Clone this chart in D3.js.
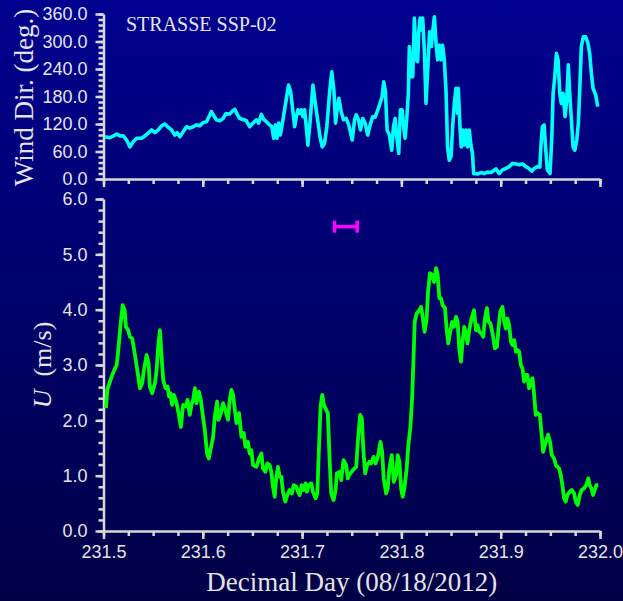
<!DOCTYPE html>
<html>
<head>
<meta charset="utf-8">
<script src="https://cdn.jsdelivr.net/npm/d3@7"></script>
<style>
  html, body { margin: 0; padding: 0; background: #00006a; }
  svg { display: block; }
</style>
</head>
<body>
<svg id="chart" width="623" height="601"></svg>
<script>
// Wind direction (deg) vs decimal day
const dirTime = [231.5015,231.5065,231.5133,231.5166,231.5199,231.5233,231.5266,231.5299,231.5334,231.5384,
  231.5417,231.5450,231.5484,231.5518,231.5551,231.5585,231.5618,231.5651,231.5685,231.5719,
  231.5742,231.5769,231.5802,231.5836,231.5869,231.5903,231.5937,231.5970,231.6003,231.6037,
  231.6063,231.6087,231.6114,231.6138,231.6171,231.6204,231.6231,231.6271,231.6298,231.6322,
  231.6349,231.6372,231.6405,231.6439,231.6472,231.6506,231.6540,231.6563,231.6590,231.6613,
  231.6640,231.6673,231.6696,231.6714,231.6731,231.6747,231.6764,231.6781,231.6807,231.6834,
  231.6864,231.6884,231.6902,231.6925,231.6942,231.6958,231.6975,231.6992,231.7008,231.7025,
  231.7042,231.7058,231.7082,231.7109,231.7133,231.7159,231.7183,231.7203,231.7226,231.7249,
  231.7276,231.7299,231.7320,231.7337,231.7354,231.7370,231.7394,231.7417,231.7444,231.7470,
  231.7505,231.7528,231.7545,231.7568,231.7588,231.7611,231.7635,231.7661,231.7685,231.7712,
  231.7736,231.7756,231.7779,231.7806,231.7822,231.7839,231.7856,231.7879,231.7903,231.7920,
  231.7937,231.7953,231.7973,231.7990,231.8007,231.8023,231.8037,231.8053,231.8070,231.8080,
  231.8097,231.8114,231.8131,231.8148,231.8164,231.8174,231.8188,231.8198,231.8214,231.8231,
  231.8248,231.8268,231.8284,231.8302,231.8315,231.8332,231.8349,231.8365,231.8382,231.8399,
  231.8415,231.8432,231.8449,231.8465,231.8482,231.8500,231.8516,231.8533,231.8550,231.8566,
  231.8573,231.8590,231.8603,231.8616,231.8633,231.8650,231.8666,231.8683,231.8700,231.8716,
  231.8727,231.8767,231.8801,231.8834,231.8867,231.8902,231.8928,231.8952,231.8985,231.9018,
  231.9052,231.9085,231.9119,231.9153,231.9186,231.9219,231.9253,231.9286,231.9314,231.9337,
  231.9370,231.9394,231.9407,231.9420,231.9437,231.9454,231.9470,231.9497,231.9515,231.9528,
  231.9545,231.9561,231.9578,231.9595,231.9611,231.9628,231.9648,231.9665,231.9681,231.9695,
  231.9712,231.9729,231.9746,231.9766,231.9782,231.9796,231.9812,231.9832,231.9856,231.9879,
  231.9896,231.9913,231.9930,231.9957,231.9977];
const dirVal = [92,90,98,94,94,85,70,81,89,89,
  94,100,107,101,107,116,120,113,107,96,
  101,92,103,114,111,114,118,116,123,125,
  136,147,137,129,127,132,142,142,148,152,
  140,132,130,127,114,122,129,122,141,130,
  125,118,114,89,118,89,122,96,129,165,
  205,191,158,114,136,151,143,151,136,151,
  114,74,129,205,165,125,89,70,78,114,
  187,234,194,122,154,176,147,129,132,118,
  85,129,140,129,107,132,122,96,118,136,
  135,147,161,180,212,191,107,96,63,114,
  132,92,56,151,151,114,89,129,187,289,
  223,223,351,260,256,318,351,325,351,281,
  165,252,321,289,321,354,296,260,292,260,
  292,260,194,70,41,49,114,165,198,143,
  198,114,70,107,74,107,70,107,74,56,
  12,11,14,12,15,14,18,22,12,20,
  23,27,34,33,31,33,27,23,17,23,
  27,26,78,114,118,63,20,12,92,187,
  223,274,260,187,165,187,136,172,249,187,
  129,70,63,85,122,194,289,310,310,296,
  274,231,198,183,158];

// Wind speed U (m/s) vs decimal day
const uTime = [231.5025,231.5038,231.5082,231.5116,231.5133,231.5149,231.5173,231.5193,231.5213,231.5226,
  231.5249,231.5266,231.5289,231.5317,231.5340,231.5367,231.5390,231.5407,231.5434,231.5454,
  231.5467,231.5490,231.5518,231.5535,231.5551,231.5568,231.5585,231.5601,231.5625,231.5645,
  231.5661,231.5675,231.5691,231.5709,231.5736,231.5759,231.5779,231.5802,231.5829,231.5846,
  231.5869,231.5886,231.5903,231.5920,231.5937,231.5960,231.5980,231.5997,231.6020,231.6043,
  231.6060,231.6080,231.6104,231.6121,231.6144,231.6158,231.6178,231.6204,231.6231,231.6254,
  231.6271,231.6288,231.6305,231.6322,231.6339,231.6365,231.6389,231.6412,231.6429,231.6455,
  231.6472,231.6489,231.6506,231.6540,231.6566,231.6590,231.6606,231.6630,231.6650,231.6673,
  231.6690,231.6707,231.6724,231.6741,231.6757,231.6774,231.6791,231.6807,231.6831,231.6851,
  231.6874,231.6897,231.6915,231.6942,231.6958,231.6975,231.6995,231.7015,231.7035,231.7048,
  231.7068,231.7092,231.7109,231.7136,231.7153,231.7169,231.7186,231.7203,231.7219,231.7243,
  231.7259,231.7276,231.7293,231.7317,231.7337,231.7350,231.7377,231.7394,231.7417,231.7444,
  231.7460,231.7477,231.7511,231.7545,231.7561,231.7585,231.7601,231.7618,231.7635,231.7655,
  231.7678,231.7695,231.7719,231.7739,231.7759,231.7772,231.7789,231.7806,231.7822,231.7846,
  231.7862,231.7879,231.7903,231.7923,231.7947,231.7963,231.7980,231.7997,231.8013,231.8030,
  231.8053,231.8070,231.8090,231.8108,231.8121,231.8134,231.8154,231.8181,231.8198,231.8214,
  231.8234,231.8254,231.8268,231.8288,231.8308,231.8329,231.8349,231.8365,231.8382,231.8399,
  231.8415,231.8439,231.8455,231.8472,231.8492,231.8510,231.8530,231.8550,231.8566,231.8583,
  231.8600,231.8616,231.8633,231.8650,231.8666,231.8683,231.8706,231.8731,231.8751,231.8767,
  231.8784,231.8807,231.8824,231.8841,231.8861,231.8877,231.8897,231.8918,231.8942,231.8962,
  231.8978,231.8995,231.9018,231.9035,231.9052,231.9068,231.9085,231.9103,231.9119,231.9136,
  231.9153,231.9169,231.9186,231.9203,231.9219,231.9236,231.9253,231.9269,231.9286,231.9303,
  231.9320,231.9337,231.9353,231.9370,231.9394,231.9410,231.9427,231.9454,231.9477,231.9497,
  231.9515,231.9538,231.9555,231.9571,231.9588,231.9605,231.9621,231.9638,231.9655,231.9671,
  231.9695,231.9716,231.9739,231.9756,231.9776,231.9796,231.9816,231.9839,231.9862,231.9882,
  231.9896,231.9913,231.9930,231.9947,231.9963,231.9983];
const uVal = [2.22,2.55,2.79,2.94,3.00,3.27,3.75,4.08,3.99,3.69,
  3.63,3.51,3.48,3.18,2.91,2.58,2.67,2.91,3.18,3.03,
  2.61,2.49,2.67,2.91,3.33,3.63,3.15,2.73,2.58,2.61,
  2.43,2.49,2.28,2.46,2.31,2.10,1.88,2.28,2.25,2.37,
  2.10,2.28,2.37,2.58,2.31,2.52,2.37,2.13,1.83,1.40,
  1.31,1.49,1.70,2.07,2.34,2.01,2.10,2.31,2.16,2.01,
  2.37,2.55,2.46,2.19,1.95,2.13,1.70,1.77,1.52,1.61,
  1.40,1.46,1.19,1.16,1.31,1.40,1.13,1.07,1.22,1.19,
  1.07,0.80,0.62,0.98,1.16,0.98,0.98,0.71,0.53,0.65,
  0.74,0.68,0.83,0.80,0.71,0.65,0.83,0.74,0.86,0.71,
  0.83,0.86,0.71,0.59,0.68,1.46,2.25,2.46,2.28,2.19,
  2.13,1.34,0.68,0.56,0.74,1.04,1.07,0.92,1.28,1.19,
  0.95,1.02,1.10,1.16,1.61,2.10,2.04,1.43,1.04,1.19,
  1.25,1.22,1.34,1.22,1.31,1.43,1.61,1.43,0.95,0.68,
  0.77,1.13,1.37,0.89,1.01,1.37,1.25,0.77,0.62,0.77,
  1.13,1.55,1.86,2.40,3.06,3.78,3.93,3.99,4.05,3.87,
  3.60,3.84,4.32,4.66,4.63,4.50,4.75,4.63,4.21,4.21,
  4.08,4.03,3.66,3.39,3.60,3.78,3.69,3.87,3.78,3.30,
  3.06,3.42,3.69,3.57,3.39,3.63,3.84,3.99,3.63,3.72,
  3.60,3.57,3.51,3.84,4.03,3.78,3.75,3.57,3.30,3.33,
  3.66,3.96,4.05,3.78,3.66,3.84,3.72,3.42,3.36,3.45,
  3.24,3.27,3.24,3.00,2.94,2.70,2.82,2.82,2.58,2.70,
  2.76,2.46,2.10,2.13,2.10,1.79,1.43,1.61,1.74,1.61,
  1.37,1.31,1.19,1.16,1.13,1.01,0.83,0.59,0.53,0.65,
  0.71,0.74,0.68,0.53,0.47,0.65,0.74,0.77,0.83,0.95,
  0.83,0.77,0.65,0.74,0.83,0.83];

// Averaging interval marker (day range, drawn at U level)
const markStart = 231.7327;
const markEnd = 231.7555;
const markLevel = 5.5;

// Axis tick values and labels
const dayTicks = [231.5, 231.6, 231.7, 231.8, 231.9, 232.0];
const dirTicks = [0, 60, 120, 180, 240, 300, 360];
const uTicks = [0, 1, 2, 3, 4, 5, 6];

const titleText = "STRASSE SSP-02";
const xLabel = "Decimal Day (08/18/2012)";

const svg = d3.select("#chart");
const W = 623, H = 601;

// background gradient
const defs = svg.append("defs");
const grad = defs.append("linearGradient").attr("id", "bg")
  .attr("x1", 0).attr("y1", 0).attr("x2", 0).attr("y2", 1);
grad.append("stop").attr("offset", "0%").attr("stop-color", "#00008f");
grad.append("stop").attr("offset", "100%").attr("stop-color", "#000046");
svg.append("rect").attr("width", W).attr("height", H).attr("fill", "url(#bg)");

const axisColor = "#d8d8d8";
const textColor = "#e4e4e4";
const tickFont = "'Liberation Sans', Arial, sans-serif";
const serifFont = "'Liberation Serif', 'Times New Roman', serif";

const x = d3.scaleLinear().domain([231.5, 232.0]).range([103.5, 600]);
const yDir = d3.scaleLinear().domain([0, 360]).range([179, 14]);
const yU = d3.scaleLinear().domain([0, 6]).range([531, 199]);

const minorDay = d3.range(0, 21).map(i => 231.5 + i * 0.025);
const minorDir = d3.range(0, 31).map(i => i * 12);
const minorU = d3.range(0, 31).map(i => i * 0.2);

function styleAxis(g) {
  g.selectAll("path.domain").attr("stroke", axisColor).attr("stroke-width", 2.5);
  g.selectAll(".tick line").attr("stroke", axisColor).attr("stroke-width", 2.5);
  g.selectAll(".tick text").attr("fill", textColor)
    .style("font-family", tickFont).style("font-size", "18px");
}

// --- top panel: wind direction ---
const topX = svg.append("g").attr("transform", `translate(0,${yDir(0)})`);
topX.call(d3.axisBottom(x).tickValues(minorDay).tickSize(5).tickSizeOuter(0).tickFormat(""));
topX.append("g").call(d3.axisBottom(x).tickValues(dayTicks).tickSize(8).tickSizeOuter(0).tickFormat(""))
  .select("path.domain").remove();
styleAxis(topX);

const topY = svg.append("g").attr("transform", `translate(${x(231.5)},0)`);
topY.call(d3.axisLeft(yDir).tickValues(minorDir).tickSize(5).tickSizeOuter(0).tickFormat(""));
topY.append("g").call(d3.axisLeft(yDir).tickValues(dirTicks).tickSize(8).tickPadding(8)
  .tickSizeOuter(0).tickFormat(d3.format(".1f")))
  .select("path.domain").remove();
styleAxis(topY);

svg.append("path")
  .datum(dirTime.map((t, i) => [t, dirVal[i]]))
  .attr("fill", "none")
  .attr("stroke", "#00ffff")
  .attr("stroke-width", 3.6)
  .attr("stroke-linejoin", "round")
  .attr("d", d3.line().x(d => x(d[0])).y(d => yDir(d[1])));

svg.append("text")
  .attr("x", 126).attr("y", 31)
  .attr("fill", textColor)
  .style("font-family", serifFont).style("font-size", "20px")
  .text(titleText);

svg.append("text")
  .attr("transform", `translate(33,${(yDir(0) + yDir(360)) / 2 + 1}) rotate(-90)`)
  .attr("text-anchor", "middle")
  .attr("fill", textColor)
  .style("font-family", serifFont).style("font-size", "27px")
  .text("Wind Dir. (deg.)");

// --- bottom panel: wind speed ---
const botX = svg.append("g").attr("transform", `translate(0,${yU(0)})`);
botX.call(d3.axisBottom(x).tickValues(minorDay).tickSize(5).tickSizeOuter(0).tickFormat(""));
botX.append("g").call(d3.axisBottom(x).tickValues(dayTicks).tickSize(8).tickPadding(6)
  .tickSizeOuter(0).tickFormat(d3.format(".1f")))
  .select("path.domain").remove();
styleAxis(botX);

const botY = svg.append("g").attr("transform", `translate(${x(231.5)},0)`);
botY.call(d3.axisLeft(yU).tickValues(minorU).tickSize(5).tickSizeOuter(0).tickFormat(""));
botY.append("g").call(d3.axisLeft(yU).tickValues(uTicks).tickSize(8).tickPadding(8)
  .tickSizeOuter(0).tickFormat(d3.format(".1f")))
  .select("path.domain").remove();
styleAxis(botY);

svg.append("path")
  .datum(uTime.map((t, i) => [t, uVal[i]]))
  .attr("fill", "none")
  .attr("stroke", "#00ff00")
  .attr("stroke-width", 3.8)
  .attr("stroke-linejoin", "round")
  .attr("d", d3.line().x(d => x(d[0])).y(d => yU(d[1])));

// averaging interval bar with end caps
const mark = svg.append("g").attr("stroke", "#ff00ff").attr("stroke-width", 3.5);
mark.append("line")
  .attr("x1", x(markStart)).attr("x2", x(markEnd))
  .attr("y1", yU(markLevel)).attr("y2", yU(markLevel));
[markStart, markEnd].forEach(t => {
  mark.append("line")
    .attr("x1", x(t)).attr("x2", x(t))
    .attr("y1", yU(markLevel) - 6).attr("y2", yU(markLevel) + 6);
});

const uLabel = svg.append("text")
  .attr("transform", `translate(51,${(yU(0) + yU(6)) / 2}) rotate(-90)`)
  .attr("text-anchor", "middle")
  .attr("fill", textColor)
  .style("font-family", serifFont).style("font-size", "26px")
  .attr("xml:space", "preserve");
uLabel.append("tspan").style("font-style", "italic").text("U");
uLabel.append("tspan").text("  (m/s)");

svg.append("text")
  .attr("x", (x(231.5) + x(232.0)) / 2).attr("y", 591)
  .attr("text-anchor", "middle")
  .attr("fill", textColor)
  .style("font-family", serifFont).style("font-size", "27px")
  .text(xLabel);
</script>
</body>
</html>
